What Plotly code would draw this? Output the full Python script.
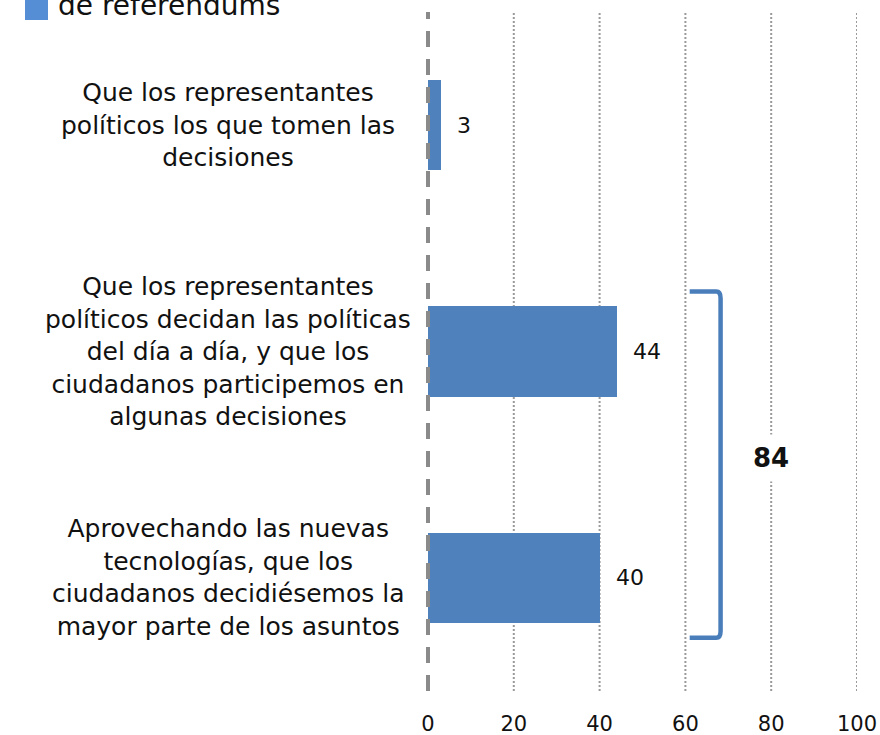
import plotly.graph_objects as go

# Survey answers (percent of respondents)
categories = [
    "Que los representantes<br>políticos los que tomen las<br>decisiones",
    "Que los representantes<br>políticos decidan las políticas<br>del día a día, y que los<br>ciudadanos participemos en<br>algunas decisiones",
    "Aprovechando las nuevas<br>tecnologías, que los<br>ciudadanos decidiésemos la<br>mayor parte de los asuntos",
]
values = [3, 44, 40]
legend_label = "de referendums"
x_ticks = [0, 20, 40, 60, 80, 100]

FONT = "DejaVu Sans, sans-serif"
BAR_BLUE = "#4F81BD"
BRACKET_BLUE = "#4A7EBB"

W, H = 880, 735
ML, MR, MT, MB = 428, 23, 12, 44
plot_w = W - ML - MR
plot_h = H - MT - MB


def px_x(X):
    return (X - ML) / plot_w


def px_y(Y):
    return (H - MB - Y) / plot_h


pos = list(range(len(categories)))

fig = go.Figure()
fig.add_trace(go.Bar(
    x=values, y=pos, orientation="h", width=0.4,
    marker=dict(color=BAR_BLUE, line=dict(width=0)),
    showlegend=False, hoverinfo="skip",
))

shapes = []
annotations = []

# dotted vertical gridlines
for t in x_ticks[1:]:
    shapes.append(dict(type="line", xref="x", yref="paper", x0=t, x1=t, y0=0, y1=1,
                       line=dict(color="#9a9a9a", width=2, dash="2px,2px"), layer="below"))
# dashed reference line along the zero edge (paper-anchored so it is not clipped)
shapes.append(dict(type="line", xref="paper", yref="paper", x0=0, x1=0, y0=0, y1=1,
                   line=dict(color="#8a8a8a", width=4, dash="16px,12px"), layer="above"))

# category labels to the left of the bars
for p, c in zip(pos, categories):
    annotations.append(dict(text=c, xref="paper", yref="y", x=px_x(228), y=p,
                            xanchor="center", yanchor="middle", align="center",
                            showarrow=False, font=dict(family=FONT, size=25, color="#111")))

# value labels
for p, v in zip(pos, values):
    annotations.append(dict(text=str(v), xref="x", yref="y", x=v, y=p, xanchor="left",
                            yanchor="middle", xshift=14, showarrow=False,
                            font=dict(family=FONT, size=22, color="#111")))

# bracket grouping the last two answers
x_in, x_out = 61.0, 68.2
y_top, y_bot = 1 - 0.265, 2 + 0.265
rx, ry = 1.0, 0.03
bracket_path = (
    f"M {x_in},{y_top} L {x_out - rx},{y_top} Q {x_out},{y_top} {x_out},{y_top + ry} "
    f"L {x_out},{y_bot - ry} Q {x_out},{y_bot} {x_out - rx},{y_bot} L {x_in},{y_bot}"
)
shapes.append(dict(type="path", xref="x", yref="y", path=bracket_path,
                   line=dict(color=BRACKET_BLUE, width=4.5)))
total = values[1] + values[2]
annotations.append(dict(text=f"<b>{total}</b>", xref="x", yref="y", x=80, y=1.47,
                        xanchor="center", yanchor="middle", showarrow=False,
                        bgcolor="white", borderpad=8,
                        font=dict(family=FONT, size=26, color="#111")))

# legend entry (only its last line is inside the frame)
shapes.append(dict(type="rect", xref="paper", yref="paper",
                   x0=px_x(25), x1=px_x(48), y0=px_y(20), y1=px_y(-4),
                   fillcolor="#558ED5", line=dict(width=0)))
annotations.append(dict(text=legend_label, xref="paper", yref="paper", x=px_x(56), y=px_y(24),
                        xanchor="left", yanchor="bottom", showarrow=False,
                        font=dict(family=FONT, size=28, color="#111")))

fig.update_layout(
    width=W, height=H,
    margin=dict(l=ML, r=MR, t=MT, b=MB),
    paper_bgcolor="white", plot_bgcolor="white",
    shapes=shapes, annotations=annotations,
    xaxis=dict(range=[0, 100], tickvals=x_ticks, ticktext=[str(t) for t in x_ticks],
               showgrid=False, zeroline=False, showline=False, automargin=False,
               ticks="outside", ticklen=14, tickcolor="rgba(0,0,0,0)",
               tickfont=dict(family=FONT, size=21, color="#111")),
    yaxis=dict(range=[2.5, -0.5], showticklabels=False, showgrid=False,
               zeroline=False, showline=False, automargin=False),
    bargap=0,
)

fig.write_html("out.html")
